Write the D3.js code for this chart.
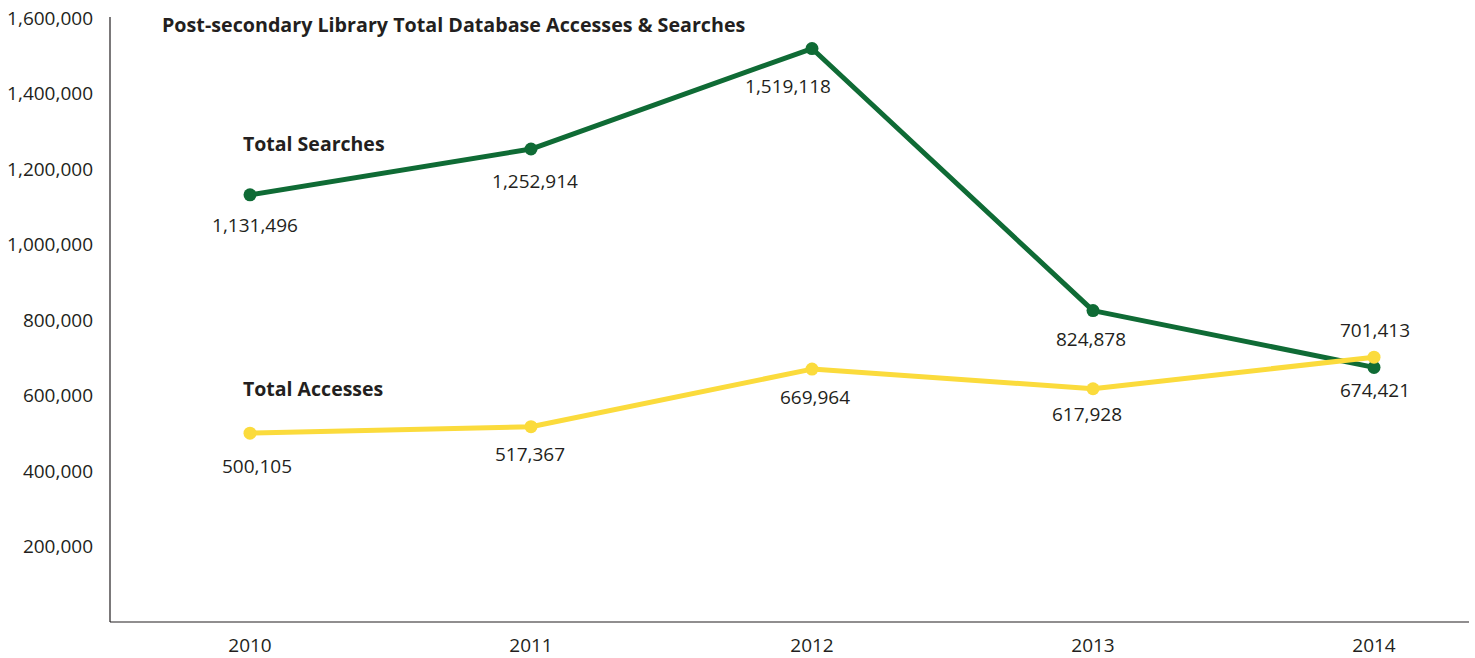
<!DOCTYPE html>
<html>
<head>
<meta charset="utf-8">
<script src="https://cdn.jsdelivr.net/npm/d3@7"></script>
<style>
  body { margin: 0; background: #fff; }
  svg text { font-family: "Open Sans", "Lato", sans-serif; fill: #231f20; }
</style>
</head>
<body>
<div id="chart"></div>
<script>
// data
var years = ["2010", "2011", "2012", "2013", "2014"];
var searches = [1131496, 1252914, 1519118, 824878, 674421];
var accesses = [500105, 517367, 669964, 617928, 701413];
var yTicks = [200000, 400000, 600000, 800000, 1000000, 1200000, 1400000, 1600000];

var width = 1475, height = 658;

var svg = d3.select("#chart").append("svg")
  .attr("width", width)
  .attr("height", height);

// scales
var x = d3.scalePoint()
  .domain(years)
  .range([250, 1374]);

var y = d3.scaleLinear()
  .domain([0, 1600000])
  .range([622, 18]);

var fmt = d3.format(",");

// axes lines
svg.append("line")
  .attr("x1", 110).attr("x2", 110)
  .attr("y1", 17).attr("y2", 622)
  .attr("stroke", "#231f20").attr("stroke-width", 1.2);

svg.append("line")
  .attr("x1", 110).attr("x2", 1469)
  .attr("y1", 622).attr("y2", 622)
  .attr("stroke", "#231f20").attr("stroke-width", 1.2);

// y tick labels
svg.selectAll("text.ytick")
  .data(yTicks)
  .enter().append("text")
    .attr("class", "ytick")
    .attr("x", 93)
    .attr("y", function (d) { return y(d); })
    .attr("dy", "0.35em")
    .attr("text-anchor", "end")
    .style("font-size", "19px")
    .text(function (d) { return fmt(d); });

// x tick labels
svg.selectAll("text.xtick")
  .data(years)
  .enter().append("text")
    .attr("class", "xtick")
    .attr("x", function (d) { return x(d); })
    .attr("y", 645)
    .attr("dy", "0.35em")
    .attr("text-anchor", "middle")
    .style("font-size", "19px")
    .text(function (d) { return d; });

// title
svg.append("text")
  .attr("x", 162).attr("y", 25)
  .attr("dy", "0.35em")
  .style("font-size", "19.7px")
  .style("font-weight", "bold")
  .text("Post-secondary Library Total Database Accesses & Searches");

var line = d3.line()
  .x(function (d, i) { return x(years[i]); })
  .y(function (d) { return y(d); });

function drawSeries(values, color, name, nameY, labelDx, labelDy) {
  svg.append("path")
    .datum(values)
    .attr("fill", "none")
    .attr("stroke", color)
    .attr("stroke-width", 5)
    .attr("stroke-linejoin", "round")
    .attr("d", line);

  svg.selectAll(null)
    .data(values)
    .enter().append("circle")
      .attr("cx", function (d, i) { return x(years[i]); })
      .attr("cy", function (d) { return y(d); })
      .attr("r", 6.5)
      .attr("fill", color);

  svg.selectAll(null)
    .data(values)
    .enter().append("text")
      .attr("x", function (d, i) { return x(years[i]) + labelDx[i]; })
      .attr("y", function (d, i) { return y(d) + labelDy[i]; })
      .attr("dy", "0.35em")
      .attr("text-anchor", "middle")
      .style("font-size", "19px")
      .text(function (d) { return fmt(d); });

  svg.append("text")
    .attr("x", 243)
    .attr("y", nameY)
    .attr("dy", "0.35em")
    .style("font-size", "19.5px")
    .style("font-weight", "bold")
    .text(name);
}

drawSeries(searches, "#0f6b35", "Total Searches", 144, [5, 4, -24, -2, 1], [30, 32, 38, 29, 23]);
drawSeries(accesses, "#fbdb3c", "Total Accesses", 389, [7, -1, 3, -6, 1], [33, 28, 28, 26, -27]);
</script>
</body>
</html>
